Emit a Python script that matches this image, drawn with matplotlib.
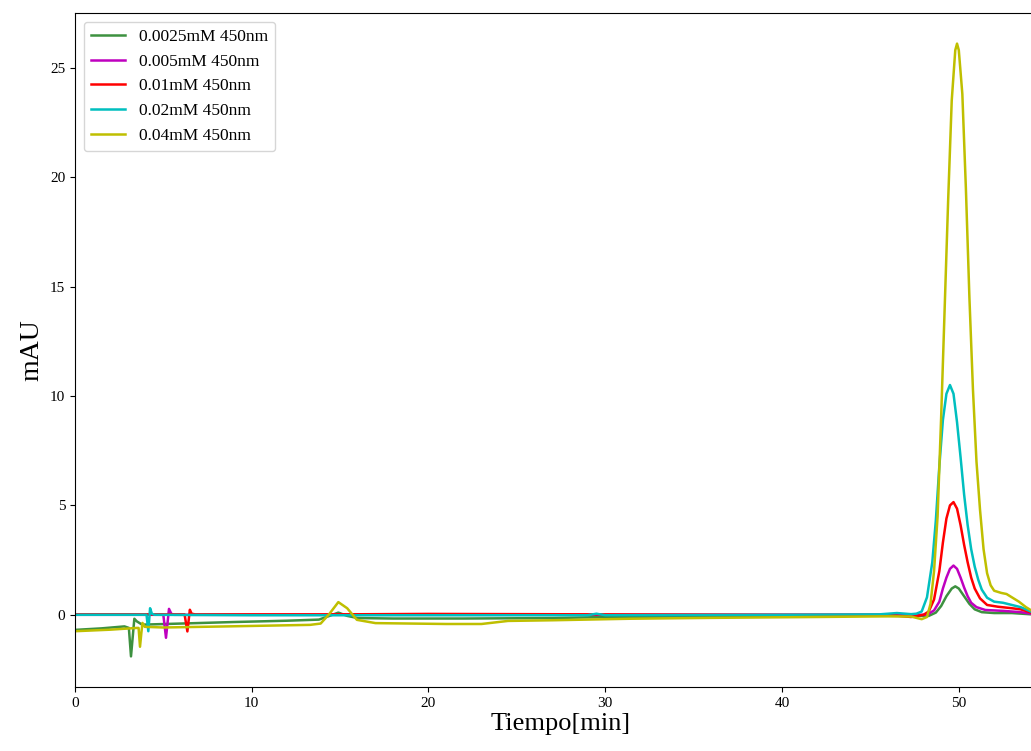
import matplotlib
matplotlib.use("Agg")
import matplotlib.pyplot as plt

plt.rcParams['font.family'] = ['Liberation Serif', 'DejaVu Serif']

labels = ['0.0025mM 450nm', '0.005mM 450nm', '0.01mM 450nm', '0.02mM 450nm', '0.04mM 450nm']
colors = ['#3d9140', 'm', 'r', 'c', 'y']

# 0.0025 mM
t_green = [0, 1.5, 2.8, 3.05, 3.17, 3.28, 3.36, 3.5, 3.8, 6, 9, 12, 13.8, 14.4, 14.9, 15.4, 16,
           18, 22, 27, 30, 35, 40, 44, 47, 48.3, 48.7, 49.0, 49.3, 49.6, 49.8, 50.0, 50.3,
           50.6, 50.9, 51.3, 52.0, 53.0, 54.5]
y_green = [-0.69, -0.62, -0.53, -0.6, -1.9, -0.9, -0.18, -0.3, -0.45, -0.4, -0.33, -0.27, -0.22,
           -0.05, 0.1, -0.05, -0.15, -0.17, -0.17, -0.15, -0.1, -0.08, -0.06, -0.04, -0.05,
           -0.05, 0.1, 0.4, 0.85, 1.2, 1.3, 1.2, 0.85, 0.5, 0.25, 0.12, 0.08, 0.08, 0.0]

# 0.005 mM
t_mag = [0, 5.0, 5.15, 5.32, 5.45, 5.6, 15, 30, 47, 48.2, 48.6, 48.9, 49.1, 49.3, 49.5, 49.7,
         49.9, 50.1, 50.3, 50.5, 50.7, 51.0, 51.5, 52.5, 53.5, 54.5]
y_mag = [0.0, 0.0, -1.05, 0.27, 0.05, 0.0, 0.0, 0.0, 0.0, 0.0, 0.2, 0.6, 1.2, 1.7, 2.1, 2.25,
         2.1, 1.7, 1.25, 0.85, 0.55, 0.35, 0.22, 0.18, 0.12, 0.0]

# 0.01 mM
t_red = [0, 6.2, 6.36, 6.5, 6.6, 6.8, 15, 20, 25, 30, 40, 46, 47.3, 48.0, 48.3, 48.6, 48.9,
         49.1, 49.3, 49.5, 49.7, 49.9, 50.1, 50.3, 50.5, 50.7, 50.9, 51.2, 51.6, 52.2, 53.0,
         53.5, 54.5]
y_red = [0.02, 0.02, -0.76, 0.23, 0.05, 0.02, 0.02, 0.04, 0.03, 0.02, 0.0, 0.0, -0.1, 0.0, 0.15,
         0.7, 2.0, 3.3, 4.4, 5.0, 5.15, 4.85, 4.1, 3.2, 2.4, 1.7, 1.2, 0.75, 0.45, 0.37, 0.3,
         0.25, 0.0]

# 0.02 mM
t_cyan = [0, 4.05, 4.15, 4.25, 4.35, 4.5, 10, 20, 29, 29.5, 30, 40, 45.5, 46.5, 47.3, 47.6,
          47.9, 48.2, 48.5, 48.7, 48.9, 49.1, 49.3, 49.5, 49.7, 49.9, 50.1, 50.3, 50.5, 50.7,
          50.9, 51.1, 51.3, 51.6, 52.0, 52.5, 53.0, 53.5, 54.5]
y_cyan = [0, 0, -0.75, 0.3, 0.05, 0, -0.02, -0.02, -0.02, 0.05, -0.02, 0.0, 0.02, 0.08, 0.03,
          0.05, 0.15, 0.8, 2.4, 4.3, 6.8, 8.9, 10.1, 10.5, 10.1, 8.8, 7.2, 5.5, 4.1, 3.0, 2.2,
          1.6, 1.15, 0.78, 0.6, 0.55, 0.45, 0.35, 0.0]

# 0.04 mM
t_yel = [0, 2, 3.5, 3.6, 3.68, 3.76, 3.82, 3.95, 5, 8.6, 13.3, 13.9, 14.4, 14.9, 15.4, 15.95,
         17, 21, 23, 24.5, 27, 31.4, 36, 42, 46, 47.3, 47.9, 48.2, 48.4, 48.6, 48.8, 49.0,
         49.2, 49.4, 49.6, 49.8, 49.9, 50.0, 50.2, 50.4, 50.6, 50.8, 51.0, 51.2, 51.4, 51.6,
         51.8, 52.0, 52.4, 52.7, 53.0, 53.4, 53.8, 54.5]
y_yel = [-0.75, -0.68, -0.6, -0.6, -1.46, -0.8, -0.37, -0.55, -0.58, -0.53, -0.46, -0.4, 0.05,
         0.58, 0.3, -0.23, -0.38, -0.42, -0.42, -0.28, -0.25, -0.18, -0.14, -0.1, -0.07,
         -0.08, -0.2, -0.1, 0.5, 2.0, 4.5, 9, 14, 19, 23.5, 25.8, 26.1, 25.8, 23.8, 19.5, 14.5,
         10.3, 7.0, 4.8, 3.0, 1.9, 1.35, 1.1, 1.0, 0.95, 0.8, 0.6, 0.35, 0.0]

series = [(t_green, y_green), (t_mag, y_mag), (t_red, y_red), (t_cyan, y_cyan), (t_yel, y_yel)]

fig = plt.figure(figsize=(10.31, 7.51), dpi=100)
ax = fig.add_axes([0.0727, 0.0852, 0.943, 0.8975])

for (t, y), c, lab in zip(series, colors, labels):
    ax.plot(t, y, color=c, lw=1.8, label=lab)

ax.set_xlim(0, 55)
ax.set_ylim(-3.3, 27.5)
ax.set_xticks([0, 10, 20, 30, 40, 50])
ax.set_yticks([0, 5, 10, 15, 20, 25])
ax.tick_params(labelsize=11)
ax.set_xlabel('Tiempo[min]', fontsize=19, labelpad=2)
ax.set_ylabel('mAU', fontsize=20)
ax.legend(loc='upper left', fontsize=12.5)

fig.savefig('out.png', dpi=100)
